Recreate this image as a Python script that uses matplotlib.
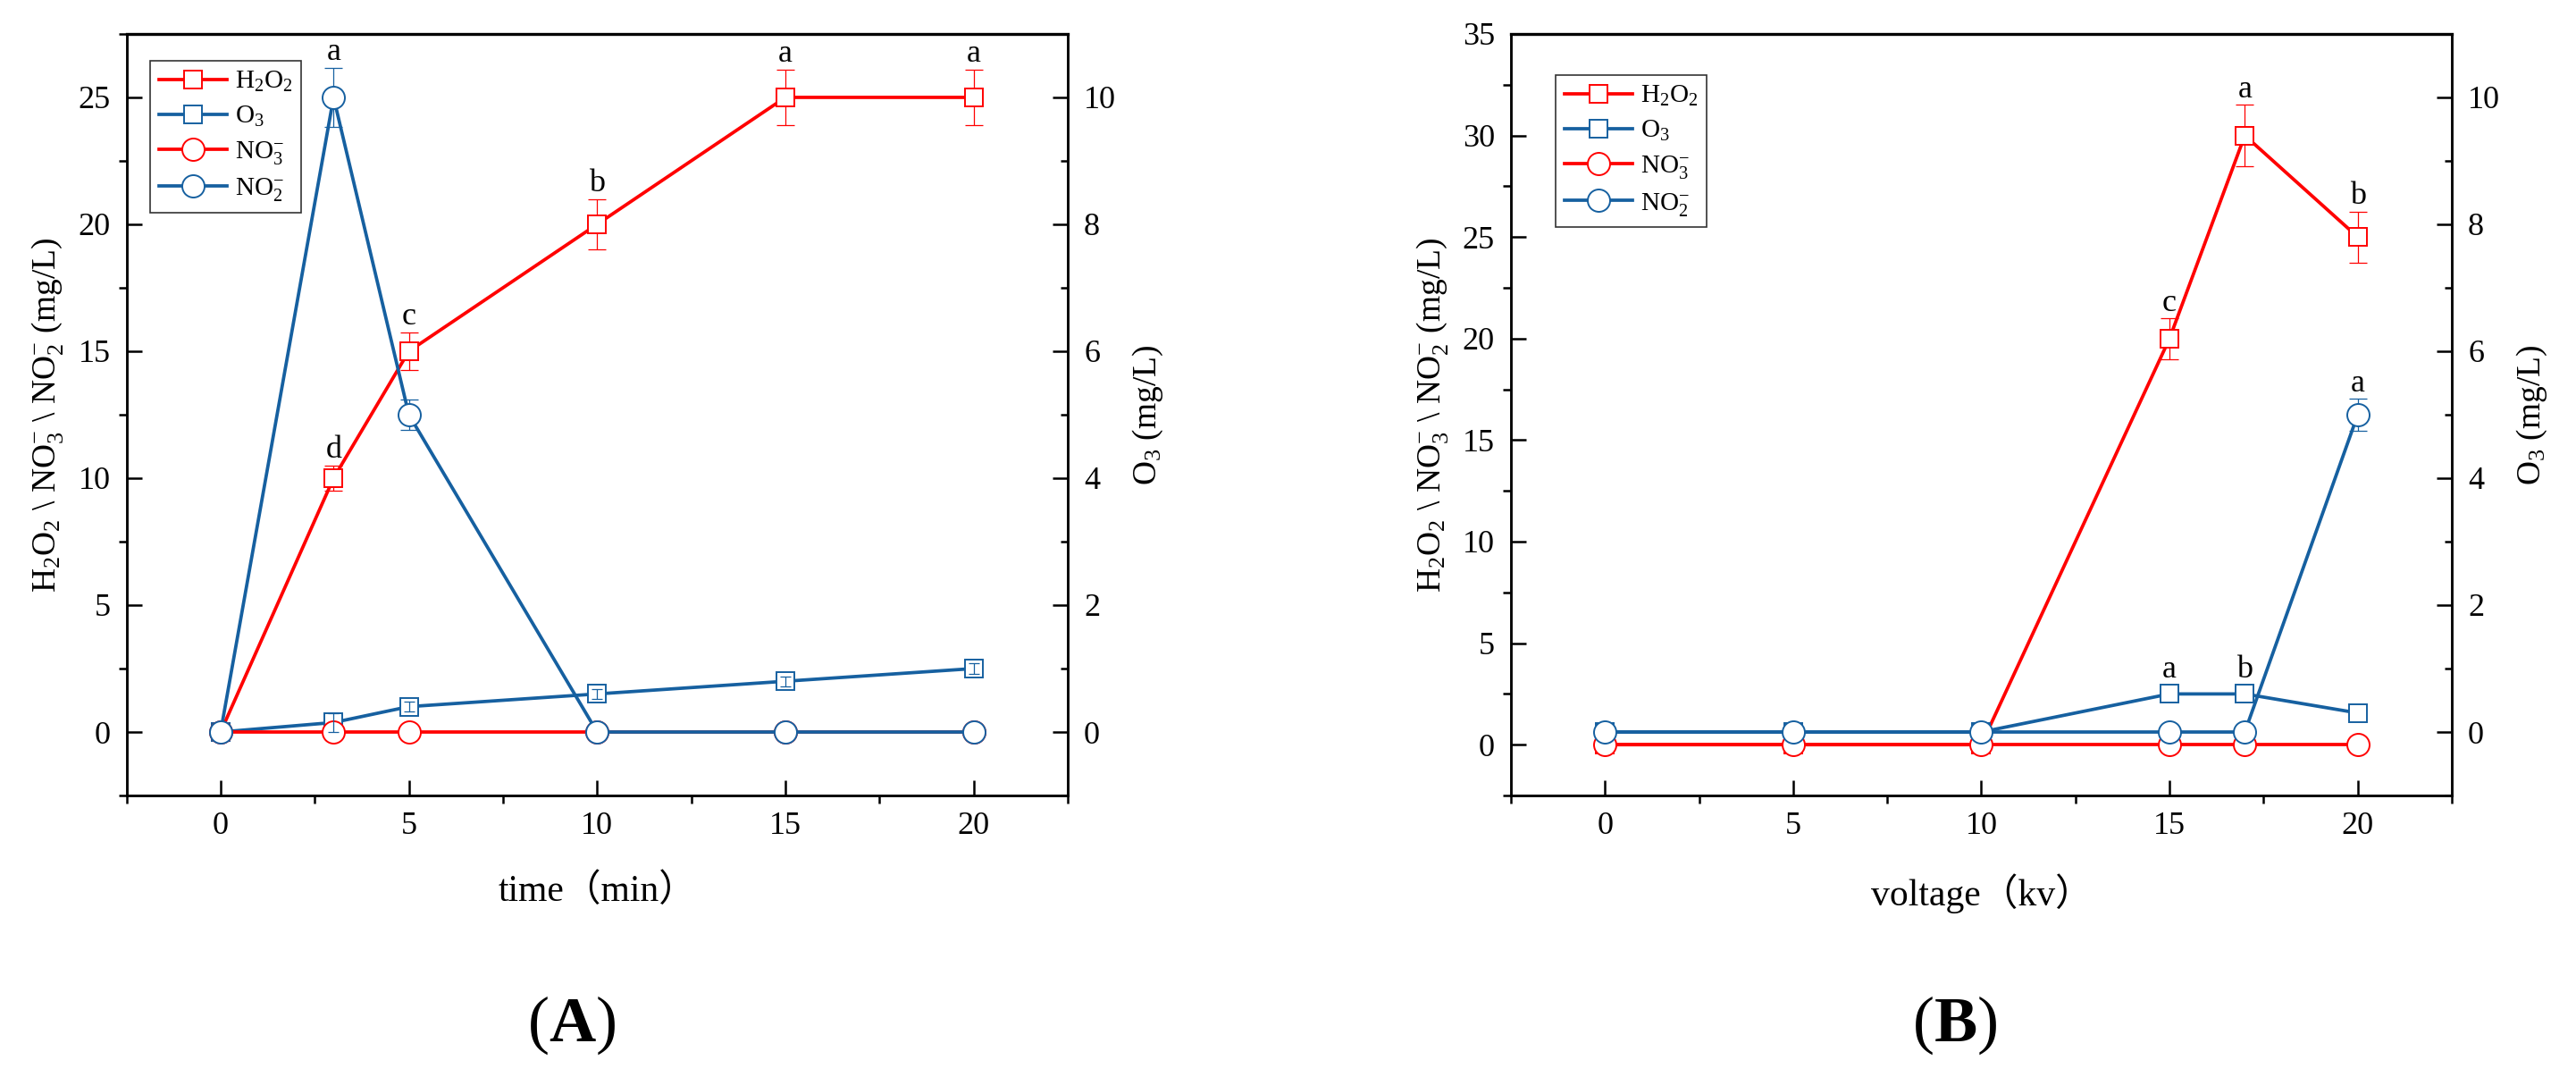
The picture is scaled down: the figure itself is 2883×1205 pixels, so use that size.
import matplotlib
matplotlib.use("Agg")
import matplotlib.pyplot as plt
from matplotlib.ticker import MultipleLocator

plt.rcParams['font.family'] = ['Liberation Serif', 'Noto Sans CJK SC']
plt.rcParams['mathtext.fontset'] = 'custom'
plt.rcParams['mathtext.rm'] = 'Liberation Serif'
plt.rcParams['mathtext.it'] = 'Liberation Serif:italic'
plt.rcParams['mathtext.bf'] = 'Liberation Serif:bold'

RED = '#ff0000'
BLUE = '#1660a0'

# ---- panel A : time (min) ----
time_min = [0, 3, 5, 10, 15, 20]
h2o2_a = [0, 10, 15, 20, 25, 25]
h2o2_a_err = [0, 0.5, 0.75, 1.0, 1.1, 1.1]
o3_a = [0, 0.15, 0.4, 0.6, 0.8, 1.0]
o3_a_err = [0, 0.15, 0.08, 0.08, 0.08, 0.08]
no3_a = [0, 0, 0, 0, 0, 0]
no2_a = [0, 10, 5, 0, 0, 0]
no2_a_err = [0, 0.47, 0.24, 0, 0, 0]
h2o2_a_letters = ['', 'd', 'c', 'b', 'a', 'a']
no2_a_letters = ['', 'a', '', '', '', '']

# ---- panel B : voltage (kv) ----
voltage_kv = [0, 5, 10, 15, 17, 20]
h2o2_b = [0, 0, 0, 20, 30, 25]
h2o2_b_err = [0, 0, 0, 1.0, 1.5, 1.25]
o3_b = [0, 0, 0, 0.6, 0.6, 0.3]
o3_b_err = [0, 0, 0, 0, 0, 0]
no3_b = [0, 0, 0, 0, 0, 0]
no2_b = [0, 0, 0, 0, 0, 5]
no2_b_err = [0, 0, 0, 0, 0, 0.25]
h2o2_b_letters = ['', '', '', 'c', 'a', 'b']
o3_b_letters = ['', '', '', 'a', 'b', '']
no2_b_letters = ['', '', '', '', '', 'a']

LW = 2.7
MEW = 1.4
SQ = 15
CI = 18


def draw_series(ax, tr, x, y, err, color, marker, ms, label, z, letters=None, bars_on_top=False):
    ax.plot(x, y, color=color, lw=LW, marker=marker, ms=ms, mfc='white', mec=color,
            mew=MEW, label=label, zorder=z, transform=tr, clip_on=False)
    xe = [xi for xi, e in zip(x, err) if e > 0]
    ye = [yi for yi, e in zip(y, err) if e > 0]
    ee = [e for e in err if e > 0]
    if ee:
        cap = 4.5 if bars_on_top else 7
        ax.errorbar(xe, ye, yerr=ee, fmt='none', ecolor=color, elinewidth=0.9,
                    capsize=cap, capthick=0.9, zorder=(z + 5 if bars_on_top else z - 0.5),
                    transform=tr)
    if letters:
        for xi, yi, e, t in zip(x, y, err, letters):
            if not t:
                continue
            off = 6 if e > 0 else 6 + ms / 2
            ax.annotate(t, xy=(xi, yi + e), xycoords=tr, xytext=(0, off),
                        textcoords='offset points', ha='center', va='baseline',
                        fontsize=26, zorder=20)


def style_axes(ax, ax2, ymax_left, xlabel, legend_pos):
    ax.set_xlim(-2.5, 22.5)
    ax.set_ylim(-2.5, ymax_left)
    ax2.set_ylim(-1, 11)
    ax.xaxis.set_major_locator(MultipleLocator(5))
    ax.xaxis.set_minor_locator(MultipleLocator(2.5))
    ax.yaxis.set_major_locator(MultipleLocator(5))
    ax.yaxis.set_minor_locator(MultipleLocator(2.5))
    ax2.yaxis.set_major_locator(MultipleLocator(2))
    ax2.yaxis.set_minor_locator(MultipleLocator(1))
    ax.tick_params(which='major', direction='in', length=12, width=1.8,
                   labelsize=26, pad=13, top=False, right=False)
    ax.tick_params(which='minor', direction='out', length=6.5, width=1.8,
                   top=False, right=False)
    ax2.tick_params(which='major', direction='in', length=12, width=1.8,
                    labelsize=26, pad=13)
    ax2.tick_params(which='minor', direction='in', length=6, width=1.8)
    for a in (ax, ax2):
        for s in a.spines.values():
            s.set_linewidth(1.8)
    ax.spines['top'].set_linewidth(2.4)
    ax.set_ylabel(r'H$_2$O$_2$ \ NO$_3^{-}$ \ NO$_2^{-}$ (mg/L)', fontsize=27, labelpad=10)
    ax2.set_ylabel(r'O$_3$ (mg/L)', fontsize=27, labelpad=12)
    ax.set_xlabel(xlabel, fontsize=30, labelpad=26)
    leg = ax.legend(loc='upper left', bbox_to_anchor=legend_pos, borderaxespad=0,
                    fontsize=21, frameon=True, fancybox=False, edgecolor='#333333',
                    framealpha=1, handlelength=2.6, handletextpad=0.3,
                    borderpad=0.35, labelspacing=0.4)
    leg.get_frame().set_linewidth(1.2)
    leg.set_zorder(30)


fig = plt.figure(figsize=(28.83, 12.05), dpi=100)

# panel A
axA = fig.add_axes([0.0491, 0.2614, 0.3654, 0.7071])
axA2 = axA.twinx()
tA = axA.transData
tA2 = axA2.transData
draw_series(axA, tA, time_min, h2o2_a, h2o2_a_err, RED, 's', SQ, r'H$_2$O$_2$', 3, h2o2_a_letters)
draw_series(axA, tA2, time_min, o3_a, o3_a_err, BLUE, 's', SQ, r'O$_3$', 4, bars_on_top=True)
draw_series(axA, tA, time_min, no3_a, [0] * 6, RED, 'o', CI, r'NO$_3^{-}$', 5)
draw_series(axA, tA2, time_min, no2_a, no2_a_err, BLUE, 'o', CI, r'NO$_2^{-}$', 6, no2_a_letters)
style_axes(axA, axA2, 27.5, 'time（min）', (0.025, 0.965))

# panel B
axB = fig.add_axes([0.5865, 0.2614, 0.3653, 0.7071])
axB2 = axB.twinx()
tB = axB.transData
tB2 = axB2.transData
draw_series(axB, tB, voltage_kv, h2o2_b, h2o2_b_err, RED, 's', SQ, r'H$_2$O$_2$', 3, h2o2_b_letters)
draw_series(axB, tB2, voltage_kv, o3_b, o3_b_err, BLUE, 's', SQ, r'O$_3$', 4, o3_b_letters)
draw_series(axB, tB, voltage_kv, no3_b, [0] * 6, RED, 'o', CI, r'NO$_3^{-}$', 5)
draw_series(axB, tB2, voltage_kv, no2_b, no2_b_err, BLUE, 'o', CI, r'NO$_2^{-}$', 6, no2_b_letters)
style_axes(axB, axB2, 35, 'voltage（kv）', (0.0475, 0.946))

fig.text(640 / 2883, 1 - 1147 / 1205, r'($\mathbf{A}$)', fontsize=52, ha='center', va='center')
fig.text(2188 / 2883, 1 - 1147 / 1205, r'($\mathbf{B}$)', fontsize=52, ha='center', va='center')

fig.savefig('out.png', dpi=100)
